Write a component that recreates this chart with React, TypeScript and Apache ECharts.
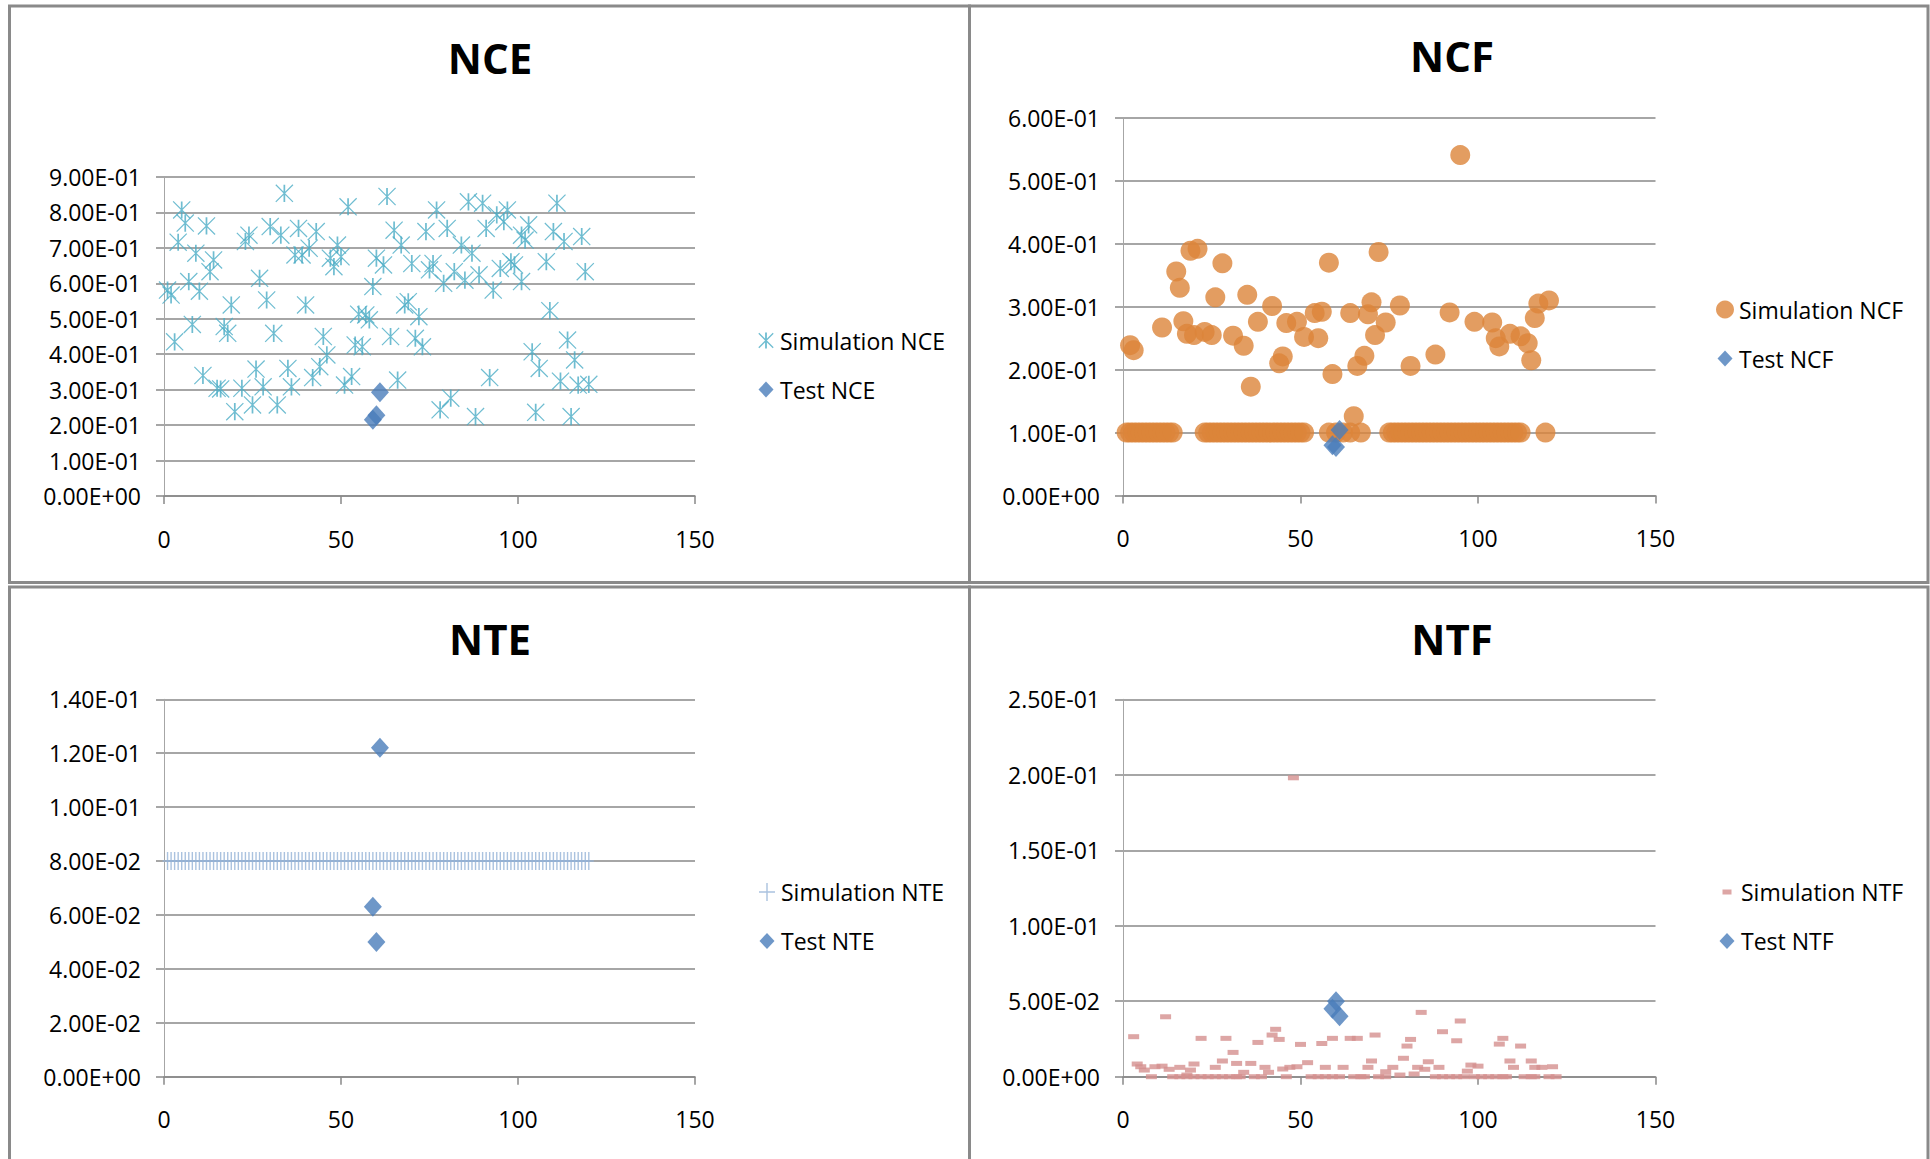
import React, { useEffect, useRef } from 'react';
import * as echarts from 'echarts';

// ---------- data ----------
const xAxisTicks = { min: 0, max: 150, interval: 50 };

const nceSimulation: [number, number][] = [
  [1, 0.581], [2, 0.567], [3, 0.435], [4, 0.716], [5, 0.807], [6, 0.77], [7, 0.605], [8, 0.484], [9, 0.685], [10, 0.578],
  [11, 0.34], [12, 0.762], [13, 0.633], [14, 0.666], [15, 0.304], [16, 0.302], [17, 0.478], [18, 0.459], [19, 0.539], [20, 0.238],
  [22, 0.304], [23, 0.718], [24, 0.736], [25, 0.257], [26, 0.358], [27, 0.614], [28, 0.308], [29, 0.553], [30, 0.76], [31, 0.459],
  [32, 0.257], [33, 0.736], [34, 0.854], [35, 0.36], [36, 0.308], [37, 0.68], [38, 0.755], [39, 0.68], [40, 0.539], [41, 0.699],
  [42, 0.334], [43, 0.746], [44, 0.365], [45, 0.45], [46, 0.398], [47, 0.671], [48, 0.647], [49, 0.708], [50, 0.675], [51, 0.313],
  [52, 0.816], [53, 0.337], [54, 0.426], [55, 0.513], [56, 0.421], [57, 0.511], [58, 0.497], [59, 0.591], [60, 0.671], [62, 0.652],
  [63, 0.845], [64, 0.45], [65, 0.75], [66, 0.327], [67, 0.708], [68, 0.539], [69, 0.548], [70, 0.656], [71, 0.445], [72, 0.506],
  [73, 0.421], [74, 0.746], [75, 0.638], [76, 0.656], [77, 0.807], [78, 0.243], [79, 0.6], [80, 0.755], [81, 0.276], [82, 0.633],
  [84, 0.708], [85, 0.609], [86, 0.83], [87, 0.685], [88, 0.224], [89, 0.624], [90, 0.826], [91, 0.755], [92, 0.334], [93, 0.581],
  [94, 0.793], [95, 0.642], [96, 0.774], [97, 0.807], [98, 0.661], [99, 0.652], [101, 0.736], [101, 0.605], [102, 0.722], [103, 0.765],
  [104, 0.407], [105, 0.236], [106, 0.36], [108, 0.661], [109, 0.523], [110, 0.746], [111, 0.826], [112, 0.324], [113, 0.718], [114, 0.44],
  [115, 0.224], [116, 0.384], [117, 0.313], [118, 0.732], [119, 0.633], [120, 0.315],
];
const nceTest: [number, number][] = [[59, 0.215], [60, 0.228], [61, 0.293]];

const ncfSimulationScatter: [number, number][] = [
  [2, 0.239], [3, 0.231], [11, 0.267], [15, 0.356], [16, 0.33], [17, 0.277], [18, 0.257], [19, 0.389], [20, 0.255], [21, 0.392],
  [23, 0.26], [25, 0.255], [26, 0.315], [28, 0.369], [31, 0.254], [34, 0.238], [35, 0.319], [36, 0.173], [38, 0.276], [42, 0.301],
  [44, 0.21], [45, 0.221], [46, 0.274], [49, 0.276], [51, 0.252], [54, 0.29], [55, 0.25], [56, 0.292], [58, 0.37], [59, 0.193],
  [64, 0.29], [65, 0.126], [66, 0.206], [68, 0.222], [69, 0.288], [70, 0.307], [71, 0.255], [72, 0.387], [74, 0.275], [78, 0.302],
  [81, 0.206], [88, 0.224], [92, 0.291], [95, 0.541], [99, 0.276], [104, 0.275], [105, 0.25], [106, 0.237], [109, 0.257], [112, 0.253],
  [114, 0.242], [115, 0.215], [116, 0.282], [117, 0.305], [120, 0.31],
];
const ncfFloorValue = 0.1;
const ncfFloorX = [
  1, 2, 3, 4, 5, 6, 7, 8, 9, 10, 11, 12, 13, 14,
  23, 24, 25, 26, 27, 28, 29, 30, 31, 32, 33, 34, 35, 36, 37, 38, 39, 40, 41, 42, 43, 44, 45, 46, 47, 48, 49, 50, 51,
  58, 60, 62, 64, 67,
  75, 76, 77, 78, 79, 80, 81, 82, 83, 84, 85, 86, 87, 88, 89, 90, 91, 92, 93, 94, 95, 96, 97, 98, 99, 100,
  101, 102, 103, 104, 105, 106, 107, 108, 109, 110, 111, 112,
  119,
];
const ncfTest: [number, number][] = [[59, 0.08], [60, 0.077], [61, 0.104]];

const nteSimulationValue = 0.08;
const nteSimulationX = [
  1, 2, 3, 4, 5, 6, 7, 8, 9, 10, 11, 12, 13, 14, 15, 16, 17, 18, 19, 20,
  21, 22, 23, 24, 25, 26, 27, 28, 29, 30, 31, 32, 33, 34, 35, 36, 37, 38, 39, 40,
  41, 42, 43, 44, 45, 46, 47, 48, 49, 50, 51, 52, 53, 54, 55, 56, 57, 58, 59, 60,
  61, 62, 63, 64, 65, 66, 67, 68, 69, 70, 71, 72, 73, 74, 75, 76, 77, 78, 79, 80,
  81, 82, 83, 84, 85, 86, 87, 88, 89, 90, 91, 92, 93, 94, 95, 96, 97, 98, 99, 100,
  101, 102, 103, 104, 105, 106, 107, 108, 109, 110, 111, 112, 113, 114, 115, 116, 117, 118, 119, 120,
];
const nteTest: [number, number][] = [[61, 0.122], [59, 0.063], [60, 0.05]];

const ntfSimulationScatter: [number, number][] = [
  [3, 0.0265], [4, 0.0084], [5, 0.0066], [6, 0.0044], [9, 0.0066], [11, 0.007], [12, 0.0397], [13, 0.0049], [16, 0.0062], [18, 0.0011],
  [19, 0.0044], [20, 0.0084], [22, 0.0254], [26, 0.0062], [28, 0.0104], [29, 0.0254], [31, 0.0161], [32, 0.0088], [34, 0.0029], [36, 0.0088],
  [38, 0.0227], [40, 0.0062], [41, 0.0029], [42, 0.0276], [43, 0.0314], [44, 0.0247], [45, 0.0051], [47, 0.0062], [48, 0.198], [49, 0.0066],
  [50, 0.0214], [52, 0.0093], [56, 0.022], [57, 0.0062], [59, 0.0254], [62, 0.0062], [64, 0.0254], [66, 0.0254], [69, 0.0062], [70, 0.0104],
  [71, 0.0276], [74, 0.0033], [76, 0.0062], [78, 0.0011], [79, 0.0122], [80, 0.0203], [81, 0.0247], [82, 0.0018], [83, 0.0062], [84, 0.0426],
  [85, 0.0049], [86, 0.0099], [89, 0.0062], [90, 0.0298], [94, 0.0238], [95, 0.0369], [97, 0.0037], [98, 0.0077], [100, 0.007], [106, 0.0216],
  [107, 0.0254], [109, 0.0104], [110, 0.0062], [112, 0.0203], [115, 0.0104], [116, 0.0062], [118, 0.0062], [121, 0.0066],
];
const ntfZeroValue = 0;
const ntfZeroX = [
  8, 14, 16, 18, 20, 22, 24, 26, 28, 30, 32, 33, 37, 39, 46, 53, 55, 57, 59, 61, 65, 67, 68, 72, 74,
  88, 90, 92, 94, 96, 99, 101, 103, 105, 107, 108, 113, 115, 116, 120, 122,
];
const ntfTest: [number, number][] = [[60, 0.05], [59, 0.045], [61, 0.04]];

const panelTitles = ['NCE', 'NCF', 'NTE', 'NTF'];
const yAxisMax = [0.9, 0.6, 0.14, 0.25];
const yAxisInterval = [0.1, 0.1, 0.02, 0.05];

// ---------- styling ----------
const FONT = "'Open Sans', sans-serif";
const GRID_COLOR = '#888888';
const TEST_COLOR = '#4A7DBA';

const STAR = 'path://M9,0h2v20h-2zM0.5,-0.5L20.5,19.5L19.5,20.5L-0.5,0.5zM20.5,0.5L0.5,20.5L-0.5,19.5L19.5,-0.5z';
const PLUS = 'path://M4.3,0h1.4v18h-1.4zM0,8.3h10v1.4h-10z';
const STAR_LEGEND = 'path://M0,0M20,20M9,1h2v18h-2zM2.5,1.5L18.5,17.5L17.5,18.5L1.5,2.5zM18.5,2.5L2.5,18.5L1.5,17.5L17.5,1.5z';
const DIAMOND_LEGEND = 'path://M0,0M18,18M9,1L16.5,9L9,17L1.5,9z';
const PLUS_LEGEND = 'path://M0,0M18,18M8.3,0h1.4v18h-1.4zM1,8.3h16v1.4h-16z';
const DASH_LEGEND = 'path://M0,0M18,18M4.5,6.5h9v5h-9z';

function sci(v: number): string {
  if (Math.abs(v) < 1e-12) return '0.00E+00';
  let exp = Math.floor(Math.log10(Math.abs(v)));
  let mant = v / Math.pow(10, exp);
  if (Math.abs(mant) >= 9.995) {
    mant /= 10;
    exp += 1;
  }
  const sign = exp < 0 ? '-' : '+';
  return mant.toFixed(2) + 'E' + sign + String(Math.abs(exp)).padStart(2, '0');
}

const grids = [
  { left: 164, top: 177, width: 531, height: 319 },
  { left: 1123, top: 118, width: 532.5, height: 377.5 },
  { left: 164, top: 699.3, width: 531, height: 377.4 },
  { left: 1123, top: 699.3, width: 532.5, height: 377.4 },
];

const titlePos = [
  [490, 57],
  [1452, 55],
  [490, 638],
  [1452, 638],
];

const legendPos = [
  { left: 757, top: 329 },
  { left: 1716, top: 298 },
  { left: 758, top: 880.5 },
  { left: 1718, top: 880.5 },
];

function buildOption() {
  const xAxis = grids.map((_, i) => ({
    type: 'value',
    gridIndex: i,
    min: xAxisTicks.min,
    max: xAxisTicks.max,
    interval: xAxisTicks.interval,
    axisLine: { show: true, onZero: false, lineStyle: { color: GRID_COLOR, width: 1.5 } },
    axisTick: { show: true, inside: false, length: 8, lineStyle: { color: GRID_COLOR, width: 1.5 } },
    splitLine: { show: false },
    axisLabel: { fontSize: 23, fontFamily: FONT, color: '#000', margin: 31 },
  }));
  const yAxis = grids.map((_, i) => ({
    type: 'value',
    gridIndex: i,
    min: 0,
    max: yAxisMax[i],
    interval: yAxisInterval[i],
    axisLine: { show: true, lineStyle: { color: '#A6A6A6', width: 1 } },
    axisTick: { show: true, inside: false, length: 8, lineStyle: { color: GRID_COLOR, width: 1.5 } },
    splitLine: { show: true, lineStyle: { color: GRID_COLOR, width: 1.5 } },
    axisLabel: { fontSize: 23, fontFamily: FONT, color: '#000', margin: 23, formatter: (v: number) => sci(v) },
  }));

  const ncfSimulation = ncfSimulationScatter.concat(ncfFloorX.map((x) => [x, ncfFloorValue] as [number, number]));
  const nteSimulation = nteSimulationX.map((x) => [x, nteSimulationValue]);
  const ntfSimulation = ntfSimulationScatter.concat(ntfZeroX.map((x) => [x, ntfZeroValue] as [number, number]));

  const testSeries = (name: string, idx: number, data: [number, number][]) => ({
    name,
    type: 'scatter',
    xAxisIndex: idx,
    yAxisIndex: idx,
    data,
    symbol: 'diamond',
    symbolSize: [18, 20],
    itemStyle: { color: TEST_COLOR },
    z: 3,
  });

  const series = [
    {
      name: 'Simulation NCE', type: 'scatter', xAxisIndex: 0, yAxisIndex: 0, data: nceSimulation,
      symbol: STAR, symbolSize: 18, itemStyle: { color: '#4BACC6' },
    },
    testSeries('Test NCE', 0, nceTest),
    {
      name: 'Simulation NCF', type: 'scatter', xAxisIndex: 1, yAxisIndex: 1, data: ncfSimulation,
      symbol: 'circle', symbolSize: 20, itemStyle: { color: '#DC843A' },
    },
    testSeries('Test NCF', 1, ncfTest),
    {
      name: 'Simulation NTE', type: 'scatter', xAxisIndex: 2, yAxisIndex: 2, data: nteSimulation,
      symbol: PLUS, symbolSize: [10, 18], itemStyle: { color: '#95B3D7' },
    },
    testSeries('Test NTE', 2, nteTest),
    {
      name: 'Simulation NTF', type: 'scatter', xAxisIndex: 3, yAxisIndex: 3, data: ntfSimulation,
      symbol: 'rect', symbolSize: [11, 5], itemStyle: { color: '#D4908E' },
    },
    testSeries('Test NTF', 3, ntfTest),
  ];

  const simIcons = [STAR_LEGEND, 'circle', PLUS_LEGEND, DASH_LEGEND];
  const legend = panelTitles.map((t, i) => ({
    orient: 'vertical',
    left: legendPos[i].left,
    top: legendPos[i].top,
    padding: 0,
    itemWidth: 18,
    itemHeight: 18,
    itemGap: 26,
    selectedMode: false,
    textStyle: { fontSize: 23, fontFamily: FONT, color: '#000', lineHeight: 23 },
    data: [
      { name: 'Simulation ' + t, icon: simIcons[i] },
      { name: 'Test ' + t, icon: DIAMOND_LEGEND },
    ],
  }));

  const borders = [
    { x: 9.5, y: 6, width: 960, height: 576.5 },
    { x: 969.5, y: 6, width: 958.5, height: 576.5 },
    { x: 9.5, y: 587, width: 960, height: 600 },
    { x: 969.5, y: 587, width: 958.5, height: 600 },
  ].map((r) => ({
    type: 'rect',
    shape: r,
    style: { fill: 'none', stroke: '#8A8A8A', lineWidth: 3 },
    silent: true,
  }));

  const titles = panelTitles.map((t, i) => ({
    type: 'text',
    x: titlePos[i][0],
    y: titlePos[i][1],
    style: {
      text: t,
      fontSize: 42,
      fontWeight: 'bold',
      fontFamily: FONT,
      fill: '#000',
      align: 'center',
      verticalAlign: 'middle',
    },
    silent: true,
  }));

  return {
    animation: false,
    backgroundColor: '#ffffff',
    grid: grids.map((g) => ({ ...g, containLabel: false })),
    xAxis,
    yAxis,
    legend,
    series,
    graphic: [...borders, ...titles],
  };
}

export default function App() {
  const ref = useRef<HTMLDivElement>(null);
  useEffect(() => {
    document.body.style.margin = '0';
    if (!ref.current) return;
    const chart = echarts.init(ref.current, null, { renderer: 'svg' });
    chart.setOption(buildOption() as any);
    return () => chart.dispose();
  }, []);
  return <div ref={ref} style={{ width: 1930, height: 1159, background: '#fff' }} />;
}
